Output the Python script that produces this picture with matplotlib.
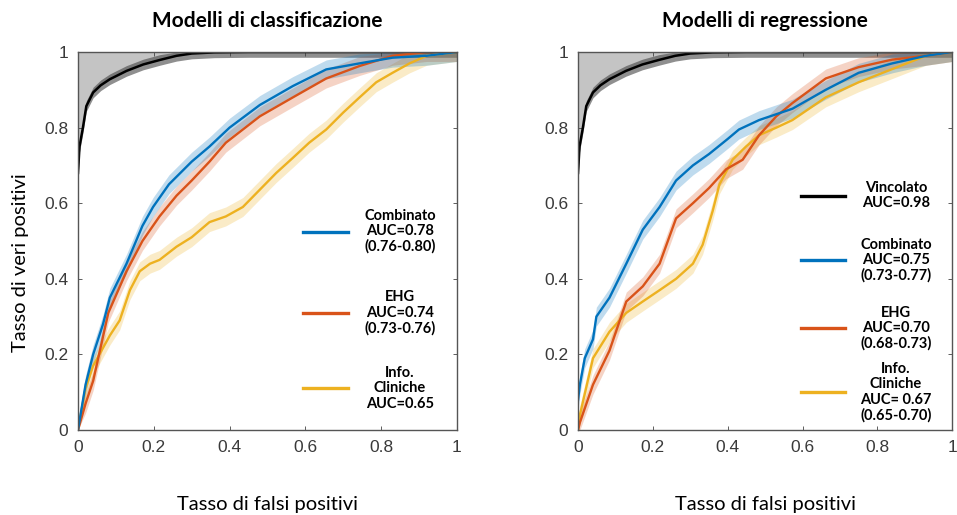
import matplotlib.pyplot as plt
from matplotlib.lines import Line2D

# Curva "vincolato" (uguale nei due pannelli)
fpr_vinc = [0, 0.004, 0.013, 0.022, 0.04, 0.06, 0.084, 0.128, 0.172, 0.216, 0.26, 0.30, 0.36, 0.45, 1.0]
tpr_vinc = [0.68, 0.75, 0.80, 0.857, 0.893, 0.912, 0.928, 0.95, 0.967, 0.979, 0.99, 0.996, 0.999, 1.0, 1.0]

# Modelli di classificazione
fpr_comb_c = [0, 0.02, 0.04, 0.066, 0.084, 0.128, 0.17, 0.198, 0.24, 0.30, 0.347, 0.40, 0.48, 0.567, 0.655, 0.743, 0.83, 0.92, 1.0]
tpr_comb_c = [0, 0.12, 0.20, 0.28, 0.35, 0.44, 0.54, 0.59, 0.65, 0.71, 0.75, 0.80, 0.86, 0.91, 0.954, 0.97, 0.985, 0.99, 1.0]
fpr_ehg_c = [0, 0.02, 0.04, 0.08, 0.128, 0.17, 0.215, 0.26, 0.30, 0.347, 0.39, 0.48, 0.567, 0.655, 0.743, 0.83, 0.92, 1.0]
tpr_ehg_c = [0, 0.07, 0.13, 0.31, 0.42, 0.50, 0.565, 0.62, 0.66, 0.71, 0.76, 0.83, 0.88, 0.93, 0.963, 0.99, 1.0, 1.0]
fpr_clin_c = [0, 0.02, 0.04, 0.084, 0.11, 0.137, 0.163, 0.19, 0.215, 0.26, 0.30, 0.347, 0.39, 0.435, 0.48, 0.523, 0.567, 0.61, 0.655, 0.70, 0.743, 0.787, 0.83, 0.875, 0.92, 1.0]
tpr_clin_c = [0, 0.11, 0.17, 0.25, 0.29, 0.37, 0.42, 0.44, 0.45, 0.485, 0.51, 0.55, 0.565, 0.59, 0.636, 0.68, 0.72, 0.76, 0.795, 0.84, 0.88, 0.92, 0.945, 0.97, 0.99, 1.0]

# Modelli di regressione
fpr_comb_r = [0, 0.005, 0.018, 0.04, 0.049, 0.084, 0.129, 0.173, 0.218, 0.262, 0.307, 0.35, 0.40, 0.43, 0.484, 0.573, 0.662, 0.75, 0.84, 0.93, 1.0]
tpr_comb_r = [0.08, 0.12, 0.19, 0.24, 0.30, 0.35, 0.44, 0.53, 0.59, 0.66, 0.70, 0.73, 0.77, 0.795, 0.82, 0.85, 0.90, 0.945, 0.97, 0.99, 1.0]
fpr_ehg_r = [0, 0.005, 0.04, 0.084, 0.129, 0.173, 0.218, 0.262, 0.307, 0.35, 0.396, 0.44, 0.484, 0.53, 0.573, 0.662, 0.75, 0.84, 0.93, 1.0]
tpr_ehg_r = [0, 0.02, 0.12, 0.21, 0.34, 0.38, 0.44, 0.56, 0.60, 0.64, 0.69, 0.715, 0.78, 0.83, 0.865, 0.93, 0.96, 0.98, 0.99, 1.0]
fpr_clin_r = [0, 0.005, 0.04, 0.084, 0.129, 0.173, 0.218, 0.262, 0.307, 0.333, 0.36, 0.378, 0.413, 0.449, 0.484, 0.53, 0.573, 0.662, 0.75, 0.84, 0.93, 1.0]
tpr_clin_r = [0, 0.04, 0.19, 0.26, 0.31, 0.34, 0.37, 0.40, 0.44, 0.49, 0.58, 0.65, 0.715, 0.75, 0.78, 0.80, 0.82, 0.88, 0.92, 0.955, 0.99, 1.0]

# semi-ampiezza della banda di confidenza
ci = 0.025

labels_c = ["Combinato\nAUC=0.78\n(0.76-0.80)", "EHG\nAUC=0.74\n(0.73-0.76)", "Info.\nCliniche\nAUC=0.65"]
labels_r = ["Vincolato\nAUC=0.98", "Combinato\nAUC=0.75\n(0.73-0.77)", "EHG\nAUC=0.70\n(0.68-0.73)",
            "Info.\nCliniche\nAUC= 0.67\n(0.65-0.70)"]
leg_y_c = [0.525, 0.31, 0.11]
leg_y_r = [0.62, 0.45, 0.27, 0.10]

BLU, ROSSO, GIALLO = "#0072BD", "#D95319", "#EDB120"
TXT = "Lato"

fig = plt.figure(figsize=(9.57, 5.15), dpi=100)
ax1 = fig.add_axes([0.0815, 0.165, 0.396, 0.734])
ax2 = fig.add_axes([0.604, 0.165, 0.391, 0.734])


def roc(ax, x, y, col):
    lo = [max(v - ci, 0) for v in y]
    hi = [min(v + ci, 1) for v in y]
    ax.fill_between(x, lo, hi, color=col, alpha=0.25, lw=0)
    ax.plot(x, y, color=col, lw=1.7)


def vincolato(ax):
    ax.fill_between(fpr_vinc, tpr_vinc, 1, color="#c4c4c4", lw=0)
    lo = [max(v - 0.014, 0) for v in tpr_vinc]
    hi = [min(v + 0.014, 1) for v in tpr_vinc]
    ax.fill_between(fpr_vinc, lo, hi, color="#444444", alpha=0.6, lw=0)
    ax.plot(fpr_vinc, tpr_vinc, color="black", lw=1.8)


def legenda(ax, colori, testi, ys):
    for c, t, y in zip(colori, testi, ys):
        ax.add_line(Line2D([0.595, 0.713], [y, y], color=c, lw=2.4))
        ax.text(0.85, y, t, ha="center", va="center", fontsize=10.5,
                fontweight="bold", family=TXT, linespacing=1.1)


vincolato(ax1)
roc(ax1, fpr_clin_c, tpr_clin_c, GIALLO)
roc(ax1, fpr_ehg_c, tpr_ehg_c, ROSSO)
roc(ax1, fpr_comb_c, tpr_comb_c, BLU)
legenda(ax1, [BLU, ROSSO, GIALLO], labels_c, leg_y_c)

vincolato(ax2)
roc(ax2, fpr_clin_r, tpr_clin_r, GIALLO)
roc(ax2, fpr_ehg_r, tpr_ehg_r, ROSSO)
roc(ax2, fpr_comb_r, tpr_comb_r, BLU)
legenda(ax2, ["black", BLU, ROSSO, GIALLO], labels_r, leg_y_r)

ticks = [0, 0.2, 0.4, 0.6, 0.8, 1]
tick_lab = ["0", "0.2", "0.4", "0.6", "0.8", "1"]
for ax, titolo in [(ax1, "Modelli di classificazione"), (ax2, "Modelli di regressione")]:
    ax.set_xlim(0, 1)
    ax.set_ylim(0, 1)
    ax.set_xticks(ticks, tick_lab)
    ax.set_yticks(ticks, tick_lab)
    ax.tick_params(direction="in", top=True, right=True, length=3, width=0.6,
                   labelsize=12.5, labelcolor="#3a3a3a", color="#444444", pad=7)
    for lab in ax.get_xticklabels() + ax.get_yticklabels():
        lab.set_family("Liberation Sans")
    for s in ax.spines.values():
        s.set_color("#555555")
        s.set_linewidth(1.0)
    ax.set_title(titolo, fontsize=15, fontweight="bold", family=TXT, pad=18)
    ax.set_xlabel("Tasso di falsi positivi", fontsize=14.5, family=TXT, labelpad=30)

fig.text(0.021, 0.49, "Tasso di veri positivi", rotation=90, ha="center", va="center",
         fontsize=14.5, family=TXT)

fig.savefig("out.png", dpi=100, facecolor="white")
